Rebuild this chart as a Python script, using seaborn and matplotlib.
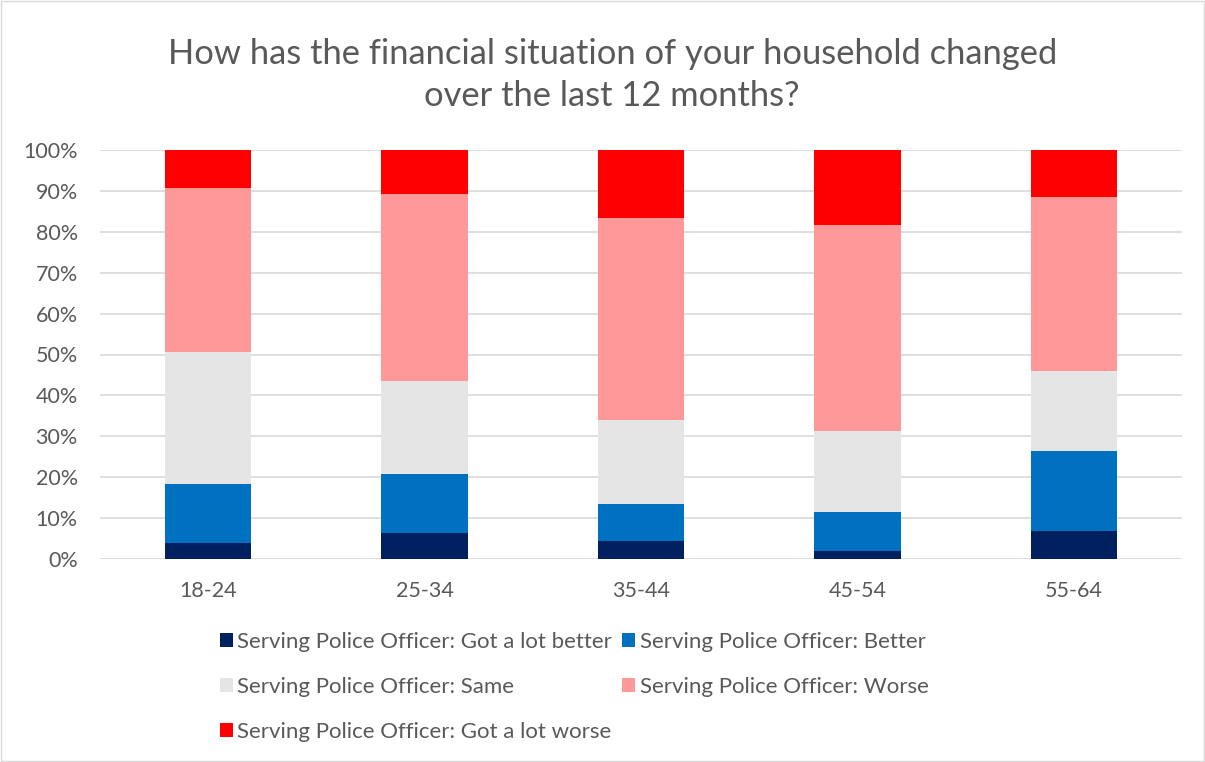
import numpy as np
import pandas as pd
import matplotlib
matplotlib.use("Agg")
import matplotlib.pyplot as plt
import seaborn as sns
from matplotlib.patches import Patch

# ---- data ----
age_groups = ["18-24", "25-34", "35-44", "45-54", "55-64"]
lot_better = [3.9, 6.3, 4.4, 1.9, 6.9]
better = [14.5, 14.4, 9.0, 9.7, 19.5]
same = [32.3, 22.7, 20.6, 19.8, 19.6]
worse = [40.0, 45.8, 49.4, 50.3, 42.5]
lot_worse = [9.3, 10.8, 16.6, 18.3, 11.5]

series_names = [
    "Serving Police Officer: Got a lot better",
    "Serving Police Officer: Better",
    "Serving Police Officer: Same",
    "Serving Police Officer: Worse",
    "Serving Police Officer: Got a lot worse",
]
series_values = [lot_better, better, same, worse, lot_worse]
colors = ["#002060", "#0070C0", "#E5E5E5", "#FF9999", "#FF0000"]

sns.set_theme(style="white")
plt.rcParams["font.family"] = ["Lato", "DejaVu Sans"]

W, H = 1205, 762
fig = plt.figure(figsize=(W / 100, H / 100), dpi=100)
ax = fig.add_axes([100 / W, 1 - 559 / H, (1182 - 100) / W, (559 - 150) / H])

# cumulative stacks, drawn tallest first so shorter ones overlay
cum = np.cumsum(np.array(series_values), axis=0)
for i in reversed(range(len(series_names))):
    df = pd.DataFrame({"age": age_groups, "val": cum[i]})
    sns.barplot(data=df, x="age", y="val", color=colors[i], width=0.4,
                saturation=1, ax=ax, zorder=3, linewidth=0)

ax.set_ylim(0, 100)
ax.set_xlim(-0.5, 4.5)
ax.set_yticks(np.arange(0, 101, 10))
ax.set_yticklabels([f"{v}%" for v in range(0, 101, 10)])
ax.yaxis.grid(True, color="#D9D9D9", linewidth=1.2, zorder=0)
ax.set_axisbelow(True)
for s in ax.spines.values():
    s.set_visible(False)
ax.set_xlabel("")
ax.set_ylabel("")
ax.tick_params(axis="both", length=0, labelsize=15.5, colors="#595959")
ax.tick_params(axis="y", pad=16)
ax.tick_params(axis="x", pad=16)

fig.text(0.508, 1 - 75 / H, "How has the financial situation of your household changed\nover the last 12 months?",
         ha="center", va="center", fontsize=24.8, color="#595959", linespacing=1.38)

handles = [Patch(facecolor=c, edgecolor="none") for c in colors]
order = [0, 2, 4, 1, 3]
leg = fig.legend([handles[i] for i in order], [series_names[i] for i in order],
                 ncol=2, loc="upper left", bbox_to_anchor=(220 / W, 1 - 632 / H),
                 frameon=False, fontsize=16, labelcolor="#595959",
                 handlelength=0.58, handleheight=0.58, handletextpad=0.2,
                 columnspacing=0.45, labelspacing=1.13, borderpad=0, borderaxespad=0)

# outer chart border
fig.patches.append(plt.Rectangle((0.001, 0.001), 0.998, 0.998, transform=fig.transFigure,
                                 fill=False, edgecolor="#D9D9D9", linewidth=1))

fig.savefig("out.png", dpi=100, facecolor="white")
